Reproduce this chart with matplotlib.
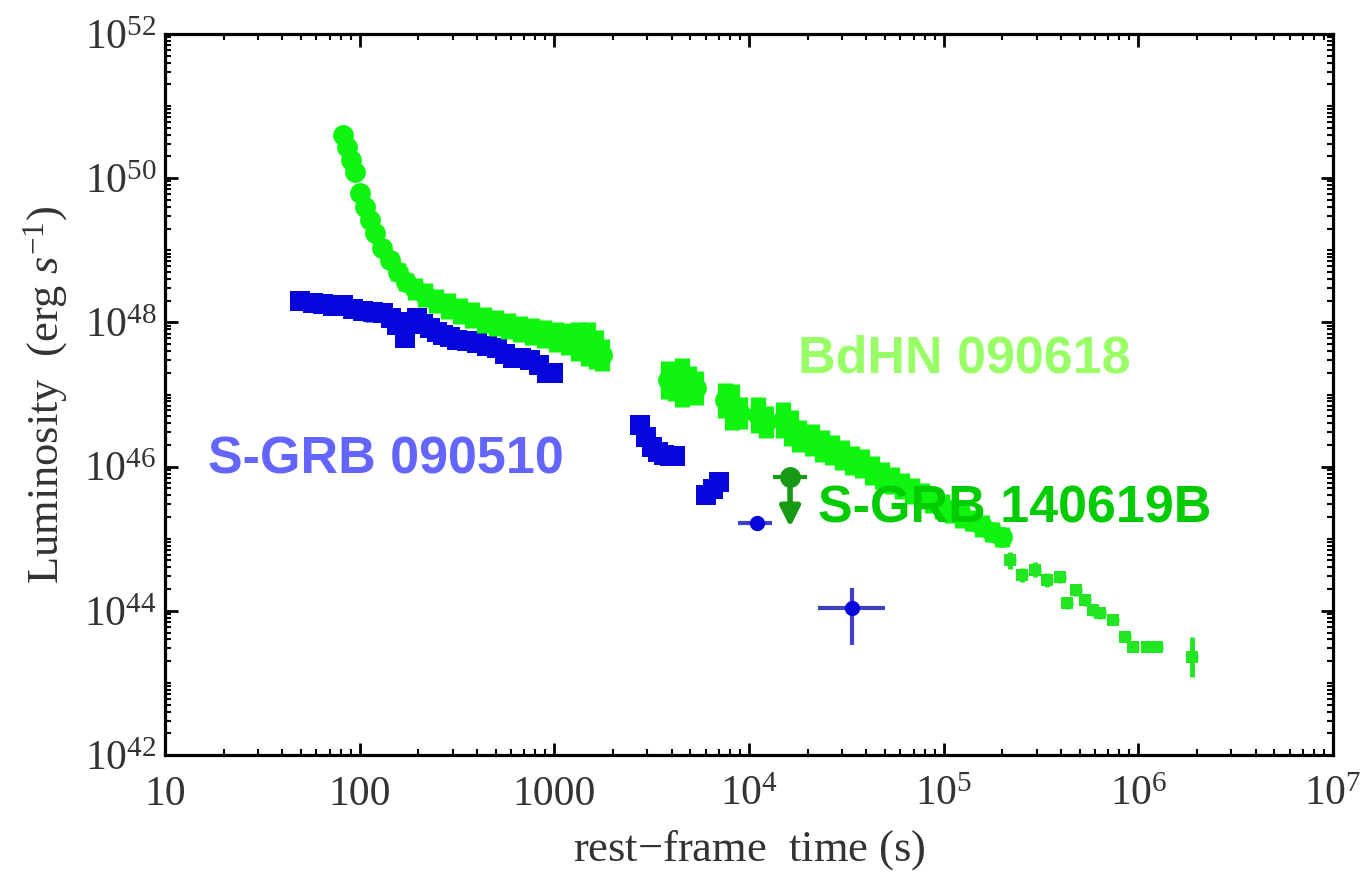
import numpy as np
import matplotlib
matplotlib.use('Agg')
from matplotlib import pyplot as plt
from matplotlib.ticker import FixedLocator, NullFormatter


# BdHN 090618 light curve (log10 t [s], log10 L [erg/s], half width [dex])
bdhn_logt = [1.914, 1.935, 1.955, 1.976, 2.002, 2.027, 2.053, 2.079, 2.115, 2.156,
             2.197, 2.238, 2.284, 2.336, 2.392, 2.454, 2.515, 2.577, 2.639, 2.700,
             2.762, 2.824, 2.885, 2.947, 3.009, 3.070, 3.122, 3.173, 3.214, 3.245,
             3.584, 3.620, 3.656, 3.692, 3.728,
             3.877, 3.913, 3.954,
             4.046, 4.087,
             4.175, 4.216, 4.257,
             4.324, 4.375, 4.426, 4.478, 4.529, 4.580, 4.632, 4.683, 4.735, 4.786,
             4.837, 4.889, 4.940, 4.991, 5.043, 5.094, 5.145, 5.197, 5.248, 5.300]
bdhn_logL = [50.60, 50.43, 50.25, 50.09, 49.79, 49.60, 49.42, 49.24, 49.03, 48.87,
             48.70, 48.56, 48.46, 48.38, 48.30, 48.23, 48.16, 48.10, 48.03, 47.99,
             47.95, 47.91, 47.87, 47.84, 47.80, 47.77, 47.74, 47.70, 47.62, 47.55,
             47.20, 47.17, 47.16, 47.13, 47.09,
             46.92, 46.83, 46.74,
             46.72, 46.62,
             46.65, 46.54, 46.42,
             46.37, 46.29, 46.23, 46.16, 46.09, 46.04, 45.95, 45.88, 45.81, 45.73,
             45.66, 45.59, 45.52, 45.45, 45.38, 45.31, 45.25, 45.18, 45.09, 45.02]
bdhn_err = [0.08, 0.08, 0.08, 0.08, 0.08, 0.08, 0.08, 0.08, 0.10, 0.11,
            0.12, 0.13, 0.15, 0.16, 0.17, 0.18, 0.18, 0.18, 0.18, 0.18,
            0.18, 0.18, 0.19, 0.20, 0.21, 0.22, 0.27, 0.30, 0.27, 0.22,
            0.26, 0.26, 0.34, 0.26, 0.24,
            0.24, 0.32, 0.22,
            0.25, 0.22,
            0.25, 0.25, 0.22,
            0.22, 0.22, 0.21, 0.21, 0.20, 0.20, 0.20, 0.19, 0.19, 0.18,
            0.18, 0.18, 0.17, 0.17, 0.16, 0.16, 0.15, 0.15, 0.14, 0.14]

# BdHN 090618 late tail
tail_logt = [5.341, 5.402, 5.469, 5.531, 5.598, 5.634, 5.680, 5.726, 5.767, 5.803,
             5.870, 5.931, 5.973, 6.044, 6.096, 6.276]
tail_logL = [44.70, 44.50, 44.57, 44.43, 44.47, 44.11, 44.29, 44.15, 44.01, 43.97,
             43.87, 43.64, 43.50, 43.50, 43.50, 43.36]
tail_err = [0.12, 0.10, 0.10, 0.10, 0.08, 0.08, 0.08, 0.08, 0.08, 0.08,
            0.07, 0.07, 0.07, 0.06, 0.06, 0.28]

# S-GRB 090510
sgrb1_logt = [1.693, 1.760, 1.812, 1.863, 1.914, 1.966, 2.017, 2.068, 2.120, 2.161,
              2.192, 2.233, 2.264, 2.294, 2.325, 2.361, 2.397, 2.428, 2.464, 2.500,
              2.551, 2.603, 2.654, 2.705, 2.747, 2.788, 2.829, 2.875, 2.921, 2.962,
              2.993,
              3.440, 3.471, 3.502, 3.532, 3.563, 3.594, 3.620,
              3.779, 3.815, 3.846]
sgrb1_logL = [48.30, 48.27, 48.26, 48.23, 48.24, 48.19, 48.16, 48.14, 48.13, 48.06,
              47.96, 47.78, 48.01, 48.06, 47.98, 47.92, 47.87, 47.83, 47.80, 47.76,
              47.74, 47.72, 47.67, 47.64, 47.56, 47.51, 47.51, 47.48, 47.41, 47.30,
              47.30,
              46.58, 46.41, 46.27, 46.20, 46.16, 46.15, 46.15,
              45.61, 45.69, 45.79]
sgrb1_err = [0.13] * 8 + [0.10] * 23 + [0.06] * 7 + [0.05] * 3

# late S-GRB 090510 points with error bars (log t, log L, t range, L range)
sgrb1_late_logt = [4.041, 4.529]
sgrb1_late_logL = [45.22, 44.04]
sgrb1_late_logt_lo = [3.943, 4.355]
sgrb1_late_logt_hi = [4.118, 4.699]
sgrb1_late_logL_lo = [45.22, 43.53]
sgrb1_late_logL_hi = [45.22, 44.32]

# S-GRB 140619B upper limit
sgrb2_logt = 4.211
sgrb2_logL = 45.86
sgrb2_logt_lo = 4.123
sgrb2_logt_hi = 4.298

xticks = [1e1, 1e2, 1e3, 1e4, 1e5, 1e6, 1e7]
xlabels = ['10', '100', '1000', r'$10^{4}$', r'$10^{5}$', r'$10^{6}$', r'$10^{7}$']
yticks = [1e42, 1e44, 1e46, 1e48, 1e50, 1e52]
ylabels = [r'$10^{42}$', r'$10^{44}$', r'$10^{46}$', r'$10^{48}$', r'$10^{50}$', r'$10^{52}$']


plt.rcParams['font.family'] = ['Liberation Serif', 'DejaVu Serif']
plt.rcParams['mathtext.fontset'] = 'custom'
plt.rcParams['mathtext.rm'] = 'Liberation Serif'
plt.rcParams['mathtext.it'] = 'Liberation Serif:italic'

fig = plt.figure(figsize=(13.66, 8.75), dpi=100)
ax = fig.add_axes([165/1366, 1 - 755/875, (1333 - 165)/1366, (755 - 34)/875])
ax.set_xscale('log')
ax.set_yscale('log')
ax.set_xlim(1e1, 1e7)
ax.set_ylim(1e42, 1e52)


def with_err(logt, logL, err):
    logt = np.asarray(logt)
    logL = np.asarray(logL)
    err = np.asarray(err)
    L = 10**logL
    return 10**logt, L, [L - 10**(logL - err), 10**(logL + err) - L]


green = '#10f510'
blue = '#0606dc'

t, L, yerr = with_err(bdhn_logt, bdhn_logL, bdhn_err)
ax.errorbar(t, L, yerr=yerr, fmt='o', color=green, ms=15, mew=0,
            elinewidth=11, capsize=0, zorder=4)

t, L, yerr = with_err(tail_logt, tail_logL, tail_err)
xerr = [t - t / 10**0.03, t * 10**0.03 - t]
ax.errorbar(t, L, xerr=xerr, yerr=yerr, fmt='s', color='#22e622', ms=8, mew=0,
            elinewidth=3.5, capsize=0, zorder=4)

t, L, yerr = with_err(sgrb1_logt, sgrb1_logL, sgrb1_err)
ax.errorbar(t, L, yerr=yerr, fmt='s', color=blue, ms=15, mew=0,
            elinewidth=11, capsize=0, zorder=3)

t = 10**np.array(sgrb1_late_logt)
L = 10**np.array(sgrb1_late_logL)
xerr = [t - 10**np.array(sgrb1_late_logt_lo), 10**np.array(sgrb1_late_logt_hi) - t]
yerr = [L - 10**np.array(sgrb1_late_logL_lo), 10**np.array(sgrb1_late_logL_hi) - L]
ax.errorbar(t, L, xerr=xerr, yerr=yerr, fmt='o', color=blue, ecolor='#4040c8',
            ms=11, mew=0, elinewidth=3, capsize=0, zorder=4)

# upper limit: point with arrow pointing down
t2, L2 = 10**sgrb2_logt, 10**sgrb2_logL
ax.errorbar([t2], [L2], xerr=[[t2 - 10**sgrb2_logt_lo], [10**sgrb2_logt_hi - t2]],
            fmt='o', color='#169a16', ms=15, mew=0, elinewidth=3, capsize=0, zorder=5)
ax.annotate('', xy=(t2, L2 / 10**0.70), xytext=(t2, L2),
            arrowprops=dict(arrowstyle='-|>', color='#169a16', lw=4,
                            mutation_scale=30, shrinkA=0, shrinkB=0), zorder=5)

ax.text(10**4.252, 10**47.31, 'BdHN 090618', color='#99ff66', fontsize=37.5,
        fontweight='bold', family='Liberation Sans', zorder=6)
ax.text(10**1.22, 10**45.91, 'S-GRB 090510', color='#6464ff', fontsize=37.5,
        fontweight='bold', family='Liberation Sans', zorder=6)
ax.text(10**4.354, 10**45.22, 'S-GRB 140619B', color='#00cc00', fontsize=37.5,
        fontweight='bold', family='Liberation Sans', zorder=6)

# ticks inside on all four sides
xminor = [k * 10.0**d for d in range(1, 7) for k in range(2, 10)]
yminor = [k * 10.0**d for d in range(42, 52) for k in range(1, 10) if d % 2 == 1 or k > 1]
ax.xaxis.set_major_locator(FixedLocator(xticks))
ax.set_xticklabels(xlabels)
ax.yaxis.set_major_locator(FixedLocator(yticks))
ax.set_yticklabels(ylabels)
ax.xaxis.set_minor_locator(FixedLocator(xminor))
ax.yaxis.set_minor_locator(FixedLocator(yminor))
ax.xaxis.set_minor_formatter(NullFormatter())
ax.yaxis.set_minor_formatter(NullFormatter())
ax.tick_params(which='both', direction='in', top=True, right=True, colors='black',
               labelcolor='#333333', labelsize=30)
ax.tick_params(which='major', length=9, width=2)
ax.tick_params(which='minor', length=4.5, width=1.5)
ax.tick_params(axis='y', pad=6)
ax.tick_params(axis='x', pad=36)
for lab in ax.get_xticklabels():
    lab.set_va('baseline')
for s in ax.spines.values():
    s.set_linewidth(2.3)

ax.set_xlabel(r'rest$-$frame  time (s)', fontsize=32, color='#333333', labelpad=10)
ax.set_ylabel(r'Luminosity  (erg $s^{-1}$)', fontsize=32, color='#333333', labelpad=10)

fig.savefig('out.png', dpi=100)
